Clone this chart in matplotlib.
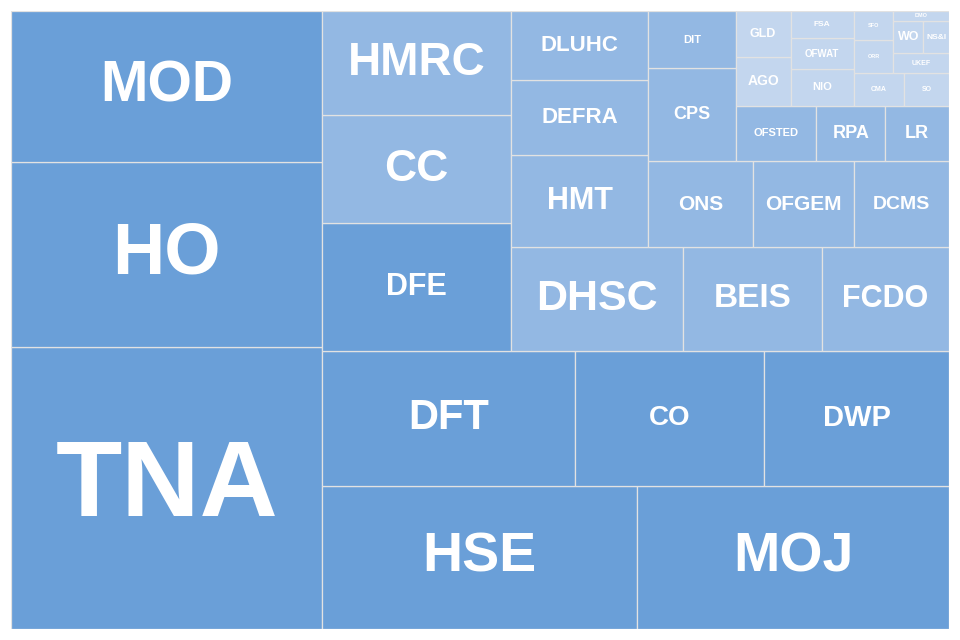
import matplotlib
matplotlib.use("Agg")
import matplotlib.pyplot as plt
from matplotlib.patches import Rectangle

# Departments and their sizes (largest first)
depts = ["TNA", "HO", "MOD", "HSE", "MOJ", "DFT", "CO", "DWP", "DFE", "CC",
         "HMRC", "DHSC", "BEIS", "FCDO", "HMT", "DEFRA", "DLUHC", "ONS", "OFGEM",
         "DCMS", "CPS", "DIT", "OFSTED", "RPA", "LR", "AGO", "GLD", "NIO",
         "OFWAT", "FSA", "CMA", "SO", "ORR", "SFO", "UKEF", "WO", "NS&I", "DMO"]
values = [8769, 5768, 4701, 4500, 4462, 3412, 2552, 2498, 2412, 2029,
          1965, 1792, 1446, 1321, 1270, 1024, 954, 897, 866,
          814, 809, 499, 449, 384, 355, 265, 256, 227,
          195, 172, 163, 143, 134, 115, 111, 98, 84, 54]

# label font sizes (pt)
font_pt = {"TNA": 78, "HO": 52, "MOD": 41, "HSE": 40, "MOJ": 40, "DFT": 30,
           "CO": 20, "DWP": 21, "DFE": 22, "CC": 32, "HMRC": 33, "DHSC": 31,
           "BEIS": 24, "FCDO": 22, "HMT": 22, "DEFRA": 16, "DLUHC": 16,
           "ONS": 15, "OFGEM": 15, "DCMS": 14, "CPS": 13, "DIT": 8,
           "OFSTED": 8, "RPA": 13, "LR": 13, "AGO": 10, "GLD": 9, "NIO": 8,
           "OFWAT": 7, "FSA": 6, "CMA": 5, "SO": 5, "ORR": 4, "SFO": 4,
           "UKEF": 5, "WO": 9, "NS&I": 6, "DMO": 4}

DARK, MID, LIGHT = "#6a9fd8", "#93b8e3", "#c3d6ee"


# squarified layout (Bruls et al.), same as the squarify package
def layout(sizes, x, y, dx, dy):
    area = sum(sizes)
    rects = []
    if dx >= dy:
        w = area / dy
        for s in sizes:
            rects.append((x, y, w, s / w))
            y += s / w
    else:
        h = area / dx
        for s in sizes:
            rects.append((x, y, s / h, h))
            x += s / h
    return rects


def leftover(sizes, x, y, dx, dy):
    area = sum(sizes)
    if dx >= dy:
        w = area / dy
        return x + w, y, dx - w, dy
    h = area / dx
    return x, y + h, dx, dy - h


def worst(sizes, x, y, dx, dy):
    return max(max(w / h, h / w) for _, _, w, h in layout(sizes, x, y, dx, dy))


def squarify(sizes, x, y, dx, dy):
    if len(sizes) == 0:
        return []
    if len(sizes) == 1:
        return layout(sizes, x, y, dx, dy)
    i = 1
    while i < len(sizes) and worst(sizes[:i], x, y, dx, dy) >= worst(sizes[:i + 1], x, y, dx, dy):
        i += 1
    cur, rest = sizes[:i], sizes[i:]
    lx, ly, ldx, ldy = leftover(cur, x, y, dx, dy)
    return layout(cur, x, y, dx, dy) + squarify(rest, lx, ly, ldx, ldy)


total = sum(values)
norm = [v * 100 * 100 / total for v in values]
rects = squarify(norm, 0, 0, 100, 100)

fig = plt.figure(figsize=(9.6, 6.4), dpi=100)
ax = fig.add_axes([11 / 960, 11 / 640, 938 / 960, 618 / 640])

for name, v, (x, y, w, h) in zip(depts, values, rects):
    if v >= 2400:
        c = DARK
    elif v >= 300:
        c = MID
    else:
        c = LIGHT
    ax.add_patch(Rectangle((x, y), w, h, facecolor=c, edgecolor="#e2e2e2", linewidth=0.9))
    ax.text(x + w / 2, y + h / 2, name, ha="center", va="center", color="white",
            fontsize=font_pt[name], fontweight="bold", family=["Liberation Sans", "DejaVu Sans"])

ax.set_xlim(0, 100)
ax.set_ylim(0, 100)
ax.axis("off")

fig.savefig("out.png", dpi=100)
